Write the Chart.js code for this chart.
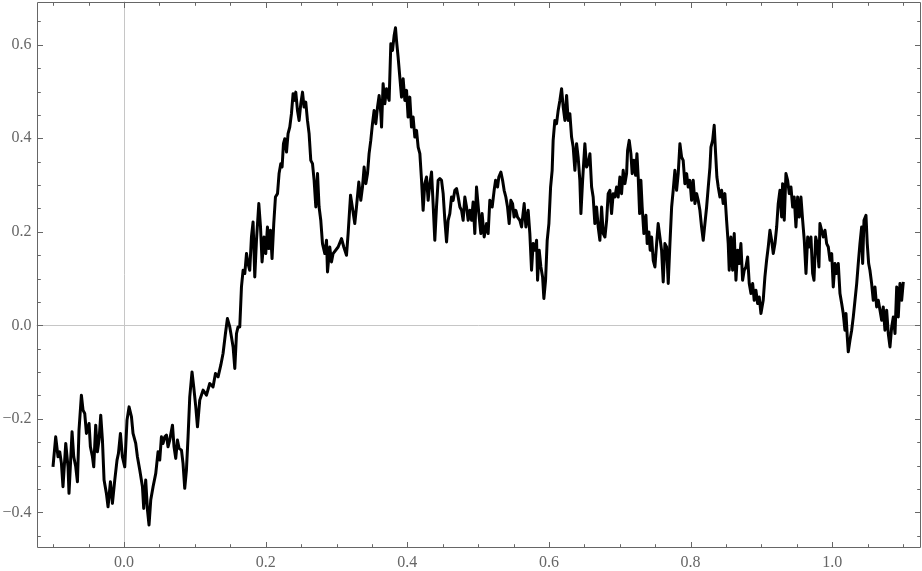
<!DOCTYPE html>
<html><head><meta charset="utf-8">
<script src="https://cdn.jsdelivr.net/npm/chart.js@4.4.1/dist/chart.umd.min.js"></script>
<style>html,body{margin:0;padding:0;background:#fff;}#wrap{width:922px;height:571px;position:relative;}</style>
</head><body><div id="wrap"><canvas id="c" width="922" height="571"></canvas></div>
<script>
const tVals = [
-0.1003,-0.0965,-0.0932,-0.0908,-0.0884,-0.0862,-0.0823,-0.0791,-0.0777,-0.0734,
-0.0710,-0.0682,-0.0658,-0.0636,-0.0602,-0.0579,-0.0555,-0.0531,-0.0494,-0.0475,
-0.0446,-0.0428,-0.0400,-0.0376,-0.0353,-0.0329,-0.0305,-0.0282,-0.0249,-0.0226,
-0.0192,-0.0164,-0.0131,-0.0099,-0.0079,-0.0051,-0.0023,0.0010,0.0042,0.0071,
0.0105,0.0127,0.0165,0.0189,0.0222,0.0260,0.0278,0.0306,0.0331,0.0353,
0.0377,0.0410,0.0448,0.0480,0.0504,0.0528,0.0551,0.0575,0.0599,0.0621,
0.0645,0.0684,0.0706,0.0730,0.0754,0.0777,0.0811,0.0833,0.0857,0.0881,
0.0904,0.0928,0.0960,0.0984,0.1013,0.1037,0.1069,
0.1116,0.1164,0.1210,0.1257,0.1291,0.1328,0.1366,0.1398,0.1432,0.1460,
0.1493,0.1517,0.1540,0.1564,0.1588,0.1610,0.1634,0.1658,0.1681,0.1705,
0.1729,0.1751,0.1775,0.1799,0.1822,0.1846,0.1870,0.1903,0.1927,0.1949,
0.1977,0.2001,0.2025,0.2044,0.2068,0.2090,0.2114,0.2138,0.2167,0.2189,
0.2213,0.2232,0.2251,0.2270,0.2294,0.2316,0.2340,0.2364,0.2387,0.2411,
0.2425,0.2449,0.2472,0.2496,0.2520,0.2542,0.2566,0.2590,0.2613,0.2637,
0.2661,0.2684,0.2708,0.2732,0.2754,0.2778,0.2802,0.2835,0.2859,0.2873,
0.2905,0.2929,0.2952,
0.3023,0.3071,0.3103,0.3141,0.3164,0.3198,0.3234,0.3258,0.3282,0.3315,
0.3343,0.3367,0.3390,0.3414,0.3438,0.3460,0.3484,0.3508,0.3531,0.3555,
0.3579,0.3602,0.3626,0.3636,0.3658,0.3682,0.3706,0.3729,0.3743,0.3767,
0.3791,0.3814,0.3833,0.3847,0.3870,0.3894,0.3918,0.3941,0.3965,0.3989,
0.4011,0.4035,0.4059,0.4082,0.4106,0.4130,0.4153,0.4177,0.4201,0.4223,
0.4247,0.4271,0.4294,0.4318,0.4342,0.4364,0.4388,0.4412,0.4435,0.4459,
0.4483,0.4506,0.4530,0.4554,0.4576,0.4600,0.4624,0.4647,0.4671,0.4695,
0.4718,0.4742,0.4766,0.4788,0.4812,0.4836,0.4859,0.4883,0.4907,0.4929,
0.4953,0.4977,
0.5010,0.5038,0.5056,0.5085,0.5119,0.5141,0.5165,0.5198,0.5226,0.5246,
0.5274,0.5292,0.5321,0.5345,0.5367,0.5391,0.5415,0.5438,0.5462,0.5486,
0.5508,0.5532,0.5556,0.5589,0.5613,0.5650,0.5674,0.5706,0.5730,0.5754,
0.5777,0.5801,0.5825,0.5839,0.5862,0.5886,0.5910,0.5928,0.5952,0.5975,
0.5999,0.6023,0.6045,0.6059,0.6083,0.6107,0.6130,0.6154,0.6178,0.6201,
0.6225,0.6249,0.6271,0.6295,0.6319,0.6342,0.6366,0.6390,0.6412,0.6436,
0.6451,0.6475,0.6507,0.6531,0.6554,0.6578,0.6602,0.6624,0.6648,0.6672,
0.6695,0.6719,0.6743,0.6766,0.6790,0.6814,0.6836,0.6860,0.6884,0.6907,
0.6931,
0.6955,0.6977,0.7001,0.7025,0.7048,0.7072,0.7096,0.7110,0.7133,0.7157,
0.7175,0.7199,0.7223,0.7242,0.7260,0.7280,0.7298,0.7316,0.7340,0.7369,
0.7387,0.7411,0.7429,0.7449,0.7472,0.7496,0.7520,0.7542,0.7566,0.7590,
0.7613,0.7637,0.7661,0.7684,0.7708,0.7732,0.7754,0.7778,0.7802,0.7825,
0.7849,0.7873,0.7895,0.7919,0.7944,0.7966,0.7990,0.8014,0.8037,0.8061,
0.8085,0.8107,0.8131,0.8155,0.8178,0.8202,0.8226,0.8249,0.8273,0.8287,
0.8311,0.8333,0.8353,0.8371,0.8390,0.8414,0.8438,0.8460,0.8484,0.8508,
0.8531,0.8545,0.8569,0.8593,0.8616,0.8640,0.8664,0.8686,0.8710,0.8734,
0.8757,0.8781,0.8805,0.8828,0.8852,0.8876,0.8898,0.8922,0.8946,0.8969,
0.8993,
0.9025,0.9049,0.9073,0.9096,0.9120,0.9144,0.9167,0.9191,0.9215,0.9237,
0.9261,0.9285,0.9299,0.9322,0.9346,0.9370,0.9393,0.9417,0.9441,0.9463,
0.9487,0.9511,0.9534,0.9558,0.9582,0.9605,0.9629,0.9653,0.9675,0.9699,
0.9723,0.9742,0.9766,0.9788,0.9812,0.9826,0.9850,0.9873,0.9897,0.9921,
0.9944,0.9968,0.9992,1.0014,1.0038,1.0062,1.0085,1.0109,1.0133,1.0155,
1.0179,1.0194,1.0212,1.0226,1.0250,1.0274,1.0297,1.0321,1.0345,1.0367,
1.0391,1.0415,1.0429,1.0448,1.0476,1.0494,1.0514,1.0532,1.0556,1.0579,
1.0603,1.0627,1.0650,1.0674,1.0698,1.0720,1.0744,1.0768,1.0791,1.0815,
1.0839,1.0862,1.0886,1.0910,1.0932,1.0956,1.0980,1.1003
];
const vVals = [
-0.3026,-0.2385,-0.2812,-0.2705,-0.2953,-0.3453,-0.2526,-0.3026,-0.3594,-0.2278,
-0.2812,-0.3026,-0.3346,-0.2241,-0.1494,-0.1814,-0.1885,-0.2312,-0.2098,-0.2598,
-0.2812,-0.3026,-0.2135,-0.2705,-0.2455,-0.1921,-0.2455,-0.3310,-0.3594,-0.3880,
-0.3346,-0.3808,-0.3310,-0.2882,-0.2739,-0.2312,-0.2812,-0.3026,-0.2028,-0.1744,
-0.1957,-0.2312,-0.2526,-0.2812,-0.3096,-0.3453,-0.3915,-0.3310,-0.3951,-0.4271,
-0.3737,-0.3453,-0.3167,-0.2705,-0.2882,-0.2385,-0.2526,-0.2385,-0.2348,-0.2598,
-0.2455,-0.2135,-0.2598,-0.2846,-0.2455,-0.2632,-0.2669,-0.2953,-0.3487,-0.3096,
-0.2385,-0.1530,-0.0996,-0.1316,-0.1744,-0.2171,-0.1600,
-0.1387,-0.1494,-0.1244,-0.1316,-0.1030,-0.1103,-0.0853,-0.0603,-0.0175,0.0145,
-0.0034,-0.0248,-0.0462,-0.0923,-0.0175,-0.0034,-0.0034,0.0821,0.1177,0.1107,
0.1534,0.1321,0.1177,0.1889,0.2209,0.1034,0.1818,0.2603,0.2103,0.1355,
0.1889,0.1534,0.2103,0.1641,0.2032,0.1427,0.2175,0.2744,0.2816,0.3244,
0.3457,0.3385,0.3885,0.3991,0.3705,0.4098,0.4239,0.4526,0.4953,0.4810,
0.4987,0.4596,0.4382,0.4739,0.4987,0.4667,0.4774,0.4382,0.4098,0.3528,
0.3457,0.3100,0.2530,0.3244,0.2530,0.2246,0.1748,0.1534,0.1818,0.1141,
0.1675,0.1355,0.1534,
0.1675,0.1855,0.1675,0.1498,0.1962,0.2780,0.2423,0.2175,0.2530,0.3064,
0.2673,0.2957,0.3385,0.3030,0.3244,0.3671,0.3955,0.4312,0.4596,0.4312,
0.4667,0.4917,0.4526,0.4239,0.5167,0.4739,0.5060,0.4880,0.4810,0.6021,
0.5878,0.6199,0.6363,0.6092,0.5735,0.5308,0.4880,0.5274,0.4810,0.5024,
0.4453,0.4880,0.4239,0.4453,0.4026,0.4169,0.3812,0.3671,0.3100,0.2459,
0.3030,0.3171,0.2673,0.3030,0.3278,0.2603,0.1818,0.2530,0.3100,0.3137,
0.3100,0.2816,0.2246,0.1782,0.2246,0.2389,0.2744,0.2673,0.2887,0.2923,
0.2744,0.2530,0.2459,0.2246,0.2744,0.2530,0.2246,0.2459,0.2246,0.2637,
0.1962,0.2957,
0.2389,0.1962,0.2389,0.1889,0.2175,0.1962,0.2673,0.2530,0.2887,0.3100,
0.2957,0.3171,0.3278,0.3100,0.2887,0.2744,0.2530,0.2175,0.2673,0.2603,
0.2316,0.2459,0.2316,0.2246,0.2103,0.2603,0.2103,0.2459,0.1962,0.1177,
0.1748,0.1605,0.1818,0.0964,0.1605,0.1248,0.1034,0.0573,0.0964,0.1818,
0.2175,0.2957,0.3314,0.3955,0.4382,0.4312,0.4596,0.4810,0.5060,0.4667,
0.4382,0.4917,0.4382,0.4526,0.4026,0.3812,0.3314,0.3885,0.3598,0.3100,
0.2389,0.3100,0.3885,0.3385,0.3457,0.3671,0.2957,0.2744,0.2175,0.2530,
0.2103,0.1818,0.2530,0.1962,0.1889,0.2246,0.2816,0.2887,0.2389,0.2816,
0.2744,
0.2957,0.2744,0.3171,0.2816,0.3314,0.3030,0.3244,0.3741,0.3955,0.3671,
0.3244,0.3528,0.3207,0.3671,0.3171,0.2389,0.3100,0.2530,0.1962,0.2353,
0.1748,0.1996,0.1605,0.1889,0.1391,0.1248,0.1748,0.2175,0.1889,0.1605,
0.0927,0.1748,0.1675,0.0893,0.1748,0.2530,0.2887,0.3314,0.2887,0.3244,
0.3885,0.3598,0.3528,0.3030,0.3244,0.2957,0.3100,0.2673,0.3100,0.2603,
0.2816,0.2673,0.2459,0.2103,0.1818,0.2175,0.2530,0.2957,0.3385,0.3812,
0.3955,0.4276,0.3671,0.3171,0.2957,0.2744,0.2887,0.2603,0.2816,0.2246,
0.1748,0.1177,0.1889,0.1177,0.1962,0.0964,0.1605,0.1321,0.1748,0.0964,
0.1177,0.1248,0.1462,0.0893,0.0679,0.0893,0.0536,0.0750,0.0466,0.0607,
0.0252,
0.0536,0.1034,0.1391,0.1675,0.2032,0.1818,0.1534,0.1748,0.2103,0.2603,
0.2887,0.2316,0.3030,0.2246,0.3244,0.3100,0.2816,0.2957,0.2530,0.2744,
0.2103,0.2744,0.2316,0.2744,0.2246,0.1818,0.1107,0.1889,0.1675,0.1889,
0.1107,0.0964,0.1889,0.1748,0.1248,0.2175,0.2032,0.1889,0.2032,0.1748,
0.1675,0.1391,0.1534,0.0821,0.1321,0.1107,0.1321,0.0679,0.0466,0.0252,
-0.0105,0.0252,-0.0248,-0.0568,-0.0318,-0.0105,0.0179,0.0536,0.0893,0.1321,
0.1748,0.2103,0.1321,0.2246,0.2353,0.1748,0.1321,0.1177,0.0893,0.0536,
0.0821,0.0393,0.0536,0.0323,0.0109,0.0393,-0.0105,0.0323,-0.0175,-0.0462,
-0.0034,0.0179,-0.0175,0.0821,0.0179,0.0893,0.0536,0.0927
];
const xMajorTicks = [0, 0.2, 0.4, 0.6, 0.8, 1.0];
const xTickLabels = ["0.0", "0.2", "0.4", "0.6", "0.8", "1.0"];
const xMinorTicks = [-0.1, -0.05, 0.05, 0.1, 0.15, 0.25, 0.3, 0.35, 0.45, 0.5, 0.55, 0.65, 0.7, 0.75, 0.85, 0.9, 0.95, 1.05, 1.1];
const yMajorTicks = [-0.4, -0.2, 0, 0.2, 0.4, 0.6];
const yTickLabels = ["\u22120.4", "\u22120.2", "0.0", "0.2", "0.4", "0.6"];
const yMinorTicks = [-0.45, -0.35, -0.3, -0.25, -0.15, -0.1, -0.05, 0.05, 0.1, 0.15, 0.25, 0.3, 0.35, 0.45, 0.5, 0.55, 0.65];

const n = Math.min(tVals.length, vVals.length);
const points = [];
for (let i = 0; i < n; i++) points.push({x: tVals[i], y: vVals[i]});

const FRAME = '#666666';
function labelFor(list, labels, v) {
  let best = 0;
  for (let i = 1; i < list.length; i++) if (Math.abs(list[i] - v) < Math.abs(list[best] - v)) best = i;
  return labels[best];
}

const framePlugin = {
  id: 'frame',
  beforeDatasetsDraw(chart) {
    const {ctx, chartArea: a, scales: {x, y}} = chart;
    ctx.save();
    ctx.strokeStyle = '#c6c6c6';
    ctx.lineWidth = 1;
    const x0 = Math.round(x.getPixelForValue(0)) + 0.5;
    const y0 = Math.round(y.getPixelForValue(0)) + 0.5;
    ctx.beginPath();
    ctx.moveTo(x0, a.top); ctx.lineTo(x0, a.bottom);
    ctx.moveTo(a.left, y0); ctx.lineTo(a.right, y0);
    ctx.stroke();
    ctx.restore();
  },
  afterDraw(chart) {
    const {ctx, chartArea: a, scales: {x, y}} = chart;
    ctx.save();
    ctx.strokeStyle = FRAME;
    ctx.lineWidth = 1;
    const L = Math.round(a.left) + 0.5, R = Math.round(a.right) - 0.5;
    const T = Math.round(a.top) + 0.5, B = Math.round(a.bottom) - 0.5;
    ctx.beginPath();
    ctx.rect(L, T, R - L, B - T);
    ctx.stroke();
    const mj = 5.5, mn = 3.3;
    ctx.beginPath();
    const xt = (vals, len) => vals.forEach(v => {
      const px = Math.round(x.getPixelForValue(v)) + 0.5;
      ctx.moveTo(px, B); ctx.lineTo(px, B - len);
      ctx.moveTo(px, T); ctx.lineTo(px, T + len);
    });
    const yt = (vals, len) => vals.forEach(v => {
      const py = Math.round(y.getPixelForValue(v)) + 0.5;
      ctx.moveTo(L, py); ctx.lineTo(L + len, py);
      ctx.moveTo(R, py); ctx.lineTo(R - len, py);
    });
    xt(xMajorTicks, mj); xt(xMinorTicks, mn);
    yt(yMajorTicks, mj); yt(yMinorTicks, mn);
    ctx.stroke();
    ctx.restore();
  }
};

const tickFont = {family: "'Liberation Serif', 'Times New Roman', serif", size: 16};

new Chart(document.getElementById('c'), {
  type: 'line',
  data: {
    datasets: [{
      data: points,
      borderColor: '#000000',
      borderWidth: 3,
      borderJoinStyle: 'round',
      pointRadius: 0,
      tension: 0,
      fill: false
    }]
  },
  options: {
    responsive: false,
    animation: false,
    devicePixelRatio: 1,
    layout: {padding: {top: 1.5, right: 1, left: 0, bottom: 0}},
    plugins: {legend: {display: false}, tooltip: {enabled: false}},
    scales: {
      x: {
        type: 'linear', position: 'bottom',
        min: -0.1236, max: 1.1253,
        afterBuildTicks: s => { s.ticks = xMajorTicks.map(v => ({value: v})); },
        afterFit: s => { s.height = 23.3; s.paddingLeft = 0; s.paddingRight = 0; },
        grid: {display: false, drawTicks: false},
        border: {display: false},
        ticks: {
          callback: v => labelFor(xMajorTicks, xTickLabels, v),
          color: FRAME, font: tickFont, padding: 5,
          maxRotation: 0, autoSkip: false
        }
      },
      y: {
        type: 'linear', position: 'left',
        min: -0.4756, max: 0.6925,
        afterBuildTicks: s => { s.ticks = yMajorTicks.map(v => ({value: v})); },
        afterFit: s => { s.width = 36.5; s.paddingTop = 0; s.paddingBottom = 0; },
        grid: {display: false, drawTicks: false},
        border: {display: false},
        ticks: {
          callback: v => labelFor(yMajorTicks, yTickLabels, v),
          color: FRAME, font: tickFont, padding: 5,
          autoSkip: false
        }
      }
    }
  },
  plugins: [framePlugin]
});
</script>
</body></html>
